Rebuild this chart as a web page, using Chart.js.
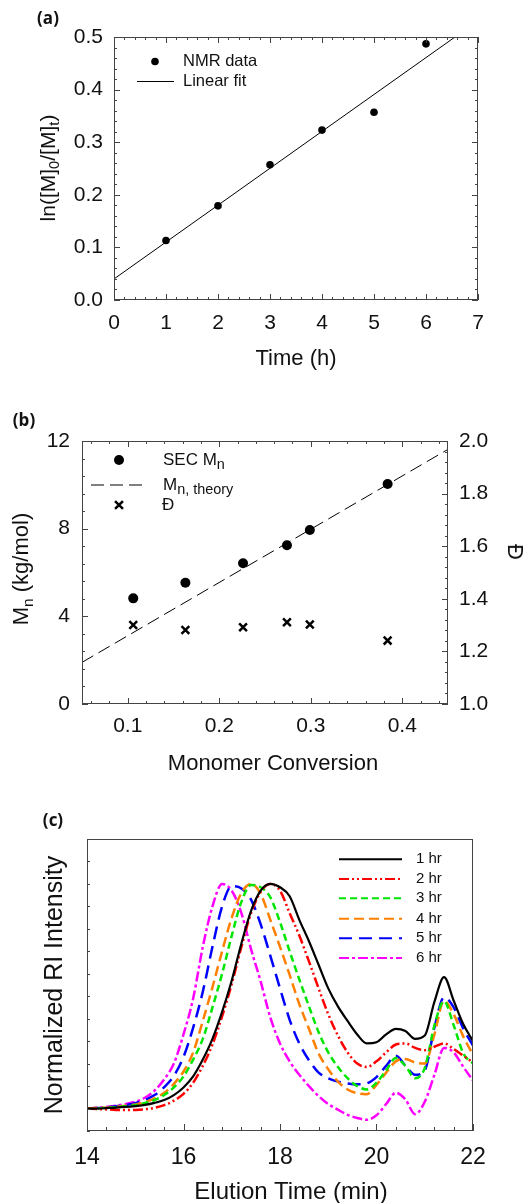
<!DOCTYPE html>
<html>
<head>
<meta charset="utf-8">
<script src="https://cdn.jsdelivr.net/npm/chart.js@4.4.1/dist/chart.umd.min.js"></script>
<style>
  body { margin: 0; background: #fff; }
  #page { position: relative; width: 524px; height: 1203px; overflow: hidden; font-family: 'Liberation Sans', Arial, sans-serif; color: #111; }
  canvas { position: absolute; left: 0; }
  .txt { position: absolute; white-space: nowrap; line-height: 1; transform: translate(-50%, -50%); }
  .vt { transform: translate(-50%, -50%) rotate(-90deg); }
  .vt90 { transform: translate(-50%, -50%) rotate(90deg); }
  .lbl { font-family: 'Open Sans', sans-serif; font-weight: 700; }
  sub { font-size: 0.7em; vertical-align: -0.3em; line-height: 0; }
</style>
</head>
<body>
<div id="page">
  <canvas id="chartA" width="524" height="380" style="top:0"></canvas>
  <canvas id="chartB" width="524" height="380" style="top:400px"></canvas>
  <canvas id="chartC" width="524" height="403" style="top:800px"></canvas>

  <div class="txt lbl" style="left:48px;top:17px;font-size:17px">(a)</div>
  <div class="txt vt" style="left:47px;top:168px;font-size:21px">ln([M]<sub>0</sub>/[M]<sub>t</sub>)</div>
  <div class="txt" style="left:296px;top:358px;font-size:22px">Time (h)</div>

  <div class="txt lbl" style="left:24px;top:419px;font-size:17px">(b)</div>
  <div class="txt vt" style="left:21px;top:569px;font-size:22px">M<sub>n</sub> (kg/mol)</div>
  <div class="txt vt90" style="left:515px;top:552px;font-size:22px">Đ</div>
  <div class="txt" style="left:273px;top:763px;font-size:22px">Monomer Conversion</div>

  <div class="txt lbl" style="left:53px;top:819px;font-size:17px">(c)</div>
  <div class="txt vt" style="left:53px;top:985px;font-size:25px">Normalized RI Intensity</div>
  <div class="txt" style="left:291px;top:1191px;font-size:24px">Elution Time (min)</div>
</div>
<script>
const FONT = "'Liberation Sans', Arial, sans-serif";
const INK = '#111';
const FRAME = '#444';

// (a) кинетика по ЯМР
const nmrTime = [1, 2, 3, 4, 5, 6];
const nmrLn = [0.113, 0.179, 0.257, 0.323, 0.357, 0.487];
const fitTime = [0, 7];
const fitLn = [0.040, 0.531];
const timeTicks = [0, 1, 2, 3, 4, 5, 6, 7];
const lnTicks = [0, 0.1, 0.2, 0.3, 0.4, 0.5];

// (b) Mn и дисперсность от конверсии
const conversion = [0.106, 0.163, 0.226, 0.274, 0.299, 0.384];
const secMn = [4.82, 5.53, 6.42, 7.24, 7.94, 10.04];
const dispersity = [1.300, 1.281, 1.292, 1.311, 1.302, 1.241];
const theoryConv = [0.05, 0.45];
const theoryMn = [1.90, 11.62];
const convTicks = [0.1, 0.2, 0.3, 0.4];
const mnTicks = [0, 4, 8, 12];
const dTicks = [1.0, 1.2, 1.4, 1.6, 1.8, 2.0];

// (c) хроматограммы SEC
const elution = [14.0, 14.2, 14.4, 14.6, 14.8, 15.0, 15.2, 15.4, 15.6, 15.8,
                 16.0, 16.2, 16.4, 16.6, 16.8, 17.0, 17.2, 17.4, 17.6, 17.8,
                 18.0, 18.2, 18.4, 18.6, 18.8, 19.0, 19.2, 19.4, 19.6, 19.8,
                 20.0, 20.2, 20.4, 20.6, 20.8, 21.0, 21.2, 21.4, 21.6, 21.8, 22.0];
const ri1h = [0, 0, 0.002, 0.004, 0.007, 0.011, 0.016, 0.025, 0.038, 0.06,
              0.094, 0.143, 0.218, 0.31, 0.43, 0.57, 0.735, 0.88, 0.97, 1.0,
              0.985, 0.945, 0.84, 0.745, 0.64, 0.535, 0.455, 0.39, 0.33, 0.29,
              0.295, 0.33, 0.355, 0.345, 0.31, 0.325, 0.475, 0.585, 0.48, 0.375, 0.30];
const ri2h = [0, -0.002, -0.004, -0.006, -0.007, -0.006, -0.003, 0.003, 0.015, 0.035,
              0.065, 0.115, 0.19, 0.285, 0.41, 0.555, 0.72, 0.87, 0.965, 1.0,
              0.97, 0.87, 0.77, 0.655, 0.535, 0.42, 0.325, 0.25, 0.2, 0.185,
              0.21, 0.25, 0.285, 0.29, 0.27, 0.26, 0.275, 0.29, 0.265, 0.235, 0.205];
const ri3h = [0, 0.001, 0.003, 0.006, 0.01, 0.015, 0.025, 0.038, 0.06, 0.094,
              0.143, 0.218, 0.31, 0.45, 0.6, 0.77, 0.92, 0.995, 0.985, 0.94,
              0.83, 0.7, 0.575, 0.455, 0.34, 0.25, 0.185, 0.135, 0.1, 0.085,
              0.115, 0.17, 0.225, 0.19, 0.135, 0.18, 0.37, 0.478, 0.37, 0.245, 0.2];
const ri4h = [0, 0.002, 0.004, 0.008, 0.012, 0.018, 0.028, 0.045, 0.07, 0.11,
              0.165, 0.25, 0.39, 0.54, 0.7, 0.85, 0.96, 1.0, 0.955, 0.84,
              0.72, 0.595, 0.465, 0.355, 0.245, 0.175, 0.12, 0.085, 0.068, 0.064,
              0.105, 0.16, 0.21, 0.22, 0.205, 0.2, 0.33, 0.48, 0.42, 0.32, 0.24];
const ri5h = [0, 0.002, 0.005, 0.01, 0.016, 0.024, 0.038, 0.06, 0.095, 0.145,
              0.23, 0.36, 0.52, 0.72, 0.9, 0.99, 0.98, 0.93, 0.82, 0.68,
              0.535, 0.395, 0.29, 0.215, 0.16, 0.135, 0.12, 0.112, 0.108, 0.112,
              0.14, 0.19, 0.235, 0.19, 0.15, 0.17, 0.36, 0.495, 0.45, 0.355, 0.28];
const ri6h = [0, 0.003, 0.007, 0.013, 0.02, 0.03, 0.048, 0.08, 0.13, 0.2,
              0.33, 0.49, 0.72, 0.9, 1.0, 0.97, 0.87, 0.71, 0.565, 0.405,
              0.29, 0.21, 0.15, 0.1, 0.055, 0.02, -0.005, -0.028, -0.042, -0.05,
              -0.03, 0.02, 0.07, 0.04, -0.025, 0.03, 0.15, 0.27, 0.25, 0.185, 0.125];
const elutionTicks = [14, 16, 18, 20, 22];
const riTicks = [0, 0.1, 0.2, 0.3, 0.4, 0.5, 0.6, 0.7, 0.8, 0.9, 1.0, 1.1];

const toXY = (xs, ys) => xs.map((x, i) => ({ x: x, y: ys[i] }));

// ось с заданными подписями и фиксированным размером
function axis(min, max, values, fmt, size, pad, fit, extra) {
    return Object.assign({
        type: 'linear',
        min: min,
        max: max,
        grid: { display: false, drawTicks: false },
        border: { display: false },
        afterBuildTicks: scale => { scale.ticks = values.map(v => ({ value: v })); },
        afterFit: fit,
        ticks: {
            callback: fmt,
            font: { family: FONT, size: size },
            color: INK,
            padding: pad,
            maxRotation: 0,
            autoSkip: false
        }
    }, extra || {});
}

// текст с нижними индексами: [[текст, индекс?], ...]
function drawRich(ctx, parts, x, y, size) {
    let cx = x;
    parts.forEach(([t, sub]) => {
        const s = sub ? size * 0.85 : size;
        ctx.font = s + 'px ' + FONT;
        ctx.fillText(t, cx, sub ? y + size * 0.3 : y);
        cx += ctx.measureText(t).width;
    });
}

function drawMarker(ctx, ds, x, y) {
    const r = ds.pointRadius;
    if (ds.pointStyle === 'crossRot') {
        const d = r * 0.72;
        ctx.strokeStyle = ds.borderColor;
        ctx.lineWidth = ds.borderWidth;
        ctx.beginPath();
        ctx.moveTo(x - d, y - d); ctx.lineTo(x + d, y + d);
        ctx.moveTo(x + d, y - d); ctx.lineTo(x - d, y + d);
        ctx.stroke();
    } else {
        ctx.fillStyle = ds.backgroundColor;
        ctx.beginPath();
        ctx.arc(x, y, r, 0, Math.PI * 2);
        ctx.fill();
    }
}

// рамка, внутренние засечки и легенда
function makeDecor(cfg) {
    return {
        id: 'decor',
        afterDatasetsDraw(chart) {
            const ctx = chart.ctx;
            const a = chart.chartArea;
            ctx.save();
            ctx.strokeStyle = FRAME;
            ctx.lineWidth = 1;
            ctx.strokeRect(a.left + 0.5, a.top + 0.5, a.right - a.left - 1, a.bottom - a.top - 1);

            cfg.ticks.forEach(t => {
                const scale = chart.scales[t.id];
                const majors = scale.ticks.map(k => k.value);
                const step = (majors[1] - majors[0]) / t.div;
                const marks = [];
                for (let v = majors[0]; v >= scale.min - 1e-6; v -= step) marks.push(v);
                for (let v = majors[0] + step; v <= scale.max + 1e-6; v += step) marks.push(v);
                marks.forEach(v => {
                    const major = majors.some(m => Math.abs(m - v) < step / 10);
                    const len = major ? t.major : t.minor;
                    const p = Math.round(scale.getPixelForValue(v)) + 0.5;
                    ctx.beginPath();
                    t.sides.forEach(side => {
                        if (side === 'bottom') { ctx.moveTo(p, a.bottom); ctx.lineTo(p, a.bottom - len); }
                        if (side === 'top') { ctx.moveTo(p, a.top); ctx.lineTo(p, a.top + len); }
                        if (side === 'left') { ctx.moveTo(a.left, p); ctx.lineTo(a.left + len, p); }
                        if (side === 'right') { ctx.moveTo(a.right, p); ctx.lineTo(a.right - len, p); }
                    });
                    ctx.stroke();
                });
            });

            ctx.fillStyle = INK;
            ctx.textBaseline = 'middle';
            cfg.legend.forEach(item => {
                const ds = chart.data.datasets[item.ds];
                if (item.x2) {
                    ctx.strokeStyle = ds.borderColor;
                    ctx.lineWidth = item.lw || ds.borderWidth;
                    ctx.setLineDash(ds.borderDash || []);
                    ctx.beginPath();
                    ctx.moveTo(item.x, item.y);
                    ctx.lineTo(item.x2, item.y);
                    ctx.stroke();
                    ctx.setLineDash([]);
                } else {
                    drawMarker(ctx, ds, item.x, item.y);
                }
                ctx.fillStyle = INK;
                drawRich(ctx, item.text, item.tx, item.y, cfg.size);
            });
            ctx.restore();
        }
    };
}

const common = {
    responsive: false,
    animation: false,
    events: [],
    plugins: { legend: { display: false }, tooltip: { enabled: false } }
};

// График (a)
new Chart(document.getElementById('chartA'), {
    type: 'scatter',
    data: {
        datasets: [
            { label: 'NMR data', data: toXY(nmrTime, nmrLn), pointRadius: 3.8, backgroundColor: '#000', borderWidth: 0 },
            { label: 'Linear fit', data: toXY(fitTime, fitLn), showLine: true, pointRadius: 0, borderColor: '#000', borderWidth: 1 }
        ]
    },
    options: Object.assign({}, common, {
        layout: { padding: { top: 37, right: 46, left: 0, bottom: 0 } },
        scales: {
            x: axis(0, 7, timeTicks, v => String(v), 21, 11, s => { s.height = 80; }),
            y: axis(0, 0.5, lnTicks, v => v.toFixed(1), 21, 11, s => { s.width = 114; })
        }
    }),
    plugins: [makeDecor({
        size: 16.5,
        ticks: [
            { id: 'x', sides: ['bottom', 'top'], div: 5, major: 6, minor: 3 },
            { id: 'y', sides: ['left', 'right'], div: 5, major: 6, minor: 3 }
        ],
        legend: [
            { ds: 0, x: 155, y: 61.5, tx: 183, text: [['NMR data']] },
            { ds: 1, x: 137, x2: 174, y: 81.5, tx: 183, text: [['Linear fit']] }
        ]
    })]
});

// График (b)
new Chart(document.getElementById('chartB'), {
    type: 'scatter',
    data: {
        datasets: [
            { label: 'SEC Mn', data: toXY(conversion, secMn), pointRadius: 5, backgroundColor: '#000', borderWidth: 0, yAxisID: 'y' },
            { label: 'Mn, theory', data: toXY(theoryConv, theoryMn), showLine: true, pointRadius: 0, borderColor: '#000', borderWidth: 1, borderDash: [13, 6], yAxisID: 'y' },
            { label: 'Đ', data: toXY(conversion, dispersity), pointStyle: 'crossRot', pointRadius: 5.5, borderColor: '#000', borderWidth: 2.5, yAxisID: 'y2' }
        ]
    },
    options: Object.assign({}, common, {
        layout: { padding: { top: 41, right: 0, left: 0, bottom: 0 } },
        scales: {
            x: axis(0.05, 0.45, convTicks, v => v.toFixed(1), 21, 10, s => { s.height = 76; }),
            y: axis(0, 12, mnTicks, v => String(v), 21, 12, s => { s.width = 82; }),
            y2: axis(1.0, 2.0, dTicks, v => v.toFixed(1), 21, 11, s => { s.width = 76; }, { position: 'right' })
        }
    }),
    plugins: [makeDecor({
        size: 17,
        ticks: [
            { id: 'x', sides: ['bottom', 'top'], div: 5, major: 6, minor: 3 },
            { id: 'y', sides: ['left'], div: 5, major: 6, minor: 3 },
            { id: 'y2', sides: ['right'], div: 5, major: 6, minor: 3 }
        ],
        legend: [
            { ds: 0, x: 119, y: 60, tx: 163, text: [['SEC M'], ['n', true]] },
            { ds: 1, x: 91, x2: 143, y: 85, tx: 163, text: [['M'], ['n, theory', true]] },
            { ds: 2, x: 119, y: 105, tx: 162, text: [['Đ']] }
        ]
    })]
});

// График (c)
const riSeries = [
    ['1 hr', ri1h, '#000000', [], 2.2],
    ['2 hr', ri2h, '#ff0000', [10, 3, 2, 3, 2, 3], 2.5],
    ['3 hr', ri3h, '#00e600', [7, 4], 2.5],
    ['4 hr', ri4h, '#ff8000', [10, 5], 2.5],
    ['5 hr', ri5h, '#0000ff', [13, 7], 2.5],
    ['6 hr', ri6h, '#ff00ff', [10, 3, 3, 3], 2.5]
];

new Chart(document.getElementById('chartC'), {
    type: 'scatter',
    data: {
        datasets: riSeries.map(([label, ys, color, dash, w]) => ({
            label: label,
            data: toXY(elution, ys),
            showLine: true,
            pointRadius: 0,
            borderColor: color,
            borderWidth: w,
            borderDash: dash,
            cubicInterpolationMode: 'monotone'
        }))
    },
    options: Object.assign({}, common, {
        layout: { padding: { top: 39, right: 51, left: 0, bottom: 0 } },
        scales: {
            x: axis(14, 22, elutionTicks, v => String(v), 23, 13, s => { s.height = 72; }),
            y: axis(-0.1, 1.2, riTicks, v => '', 10, 0, s => { s.width = 87; }, { ticks: { display: false } })
        }
    }),
    plugins: [makeDecor({
        size: 15,
        ticks: [
            { id: 'x', sides: ['bottom'], div: 5, major: 7, minor: 4 },
            { id: 'y', sides: ['left'], div: 1, major: 3, minor: 3 }
        ],
        legend: riSeries.map((s, i) => ({
            ds: i, x: 339, x2: 402, y: [59.3, 79, 98.3, 118.7, 138.3, 158][i], tx: 416, lw: 2, text: [[s[0]]]
        }))
    })]
});
</script>
</body>
</html>
